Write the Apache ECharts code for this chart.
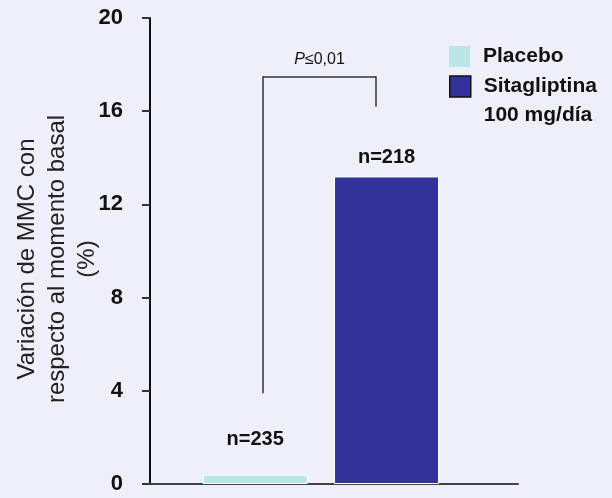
<!DOCTYPE html>
<html>
<head>
<meta charset="utf-8">
<script src="https://cdn.jsdelivr.net/npm/echarts@6/dist/echarts.min.js"></script>
<style>
  html, body { margin: 0; padding: 0; background: #efeff9; }
  #chart { width: 612px; height: 498px; }
</style>
</head>
<body>
<div id="chart"></div>
<script>
// Change in bone mineral density from baseline, by treatment group
const groups = ['Placebo', 'Sitagliptina 100 mg/día'];
const changePct = [0.4, 13.2];
const sampleSizes = [235, 218];
const yTicks = [0, 4, 8, 12, 16, 20];
const pLabel = 'P≤0,01';

const FONT = "'Liberation Sans', Arial, Helvetica, sans-serif";
const colors = ['#bde4e6', '#32329a'];
const labelDistance = [25, 9];

const chart = echarts.init(document.getElementById('chart'), null, { renderer: 'canvas' });

// Each group sits in its own slot (1, 2) along a plain value axis
const series = groups.map((name, i) => ({
  name,
  type: 'bar',
  barWidth: 105,
  barGap: '-100%',
  data: [[i + 1, changePct[i]]],
  itemStyle: { color: colors[i], borderColor: '#ffffff', borderWidth: 1 },
  label: {
    show: true,
    position: 'top',
    distance: labelDistance[i],
    formatter: () => 'n=' + sampleSizes[i],
    fontFamily: FONT,
    fontWeight: 'bold',
    fontSize: 20,
    color: '#111'
  },
  silent: true
}));

// Significance bracket between the two groups
series[1].markLine = {
  silent: true,
  symbol: 'none',
  animation: false,
  lineStyle: { color: '#333', width: 1.5, type: 'solid' },
  label: { show: false },
  data: [
    [{ coord: [1.06, 3.9] }, { coord: [1.06, 17.5] }],
    [
      {
        coord: [1.06, 17.5],
        label: {
          show: true,
          position: 'middle',
          distance: 9,
          formatter: '{i|P}{t|' + pLabel.slice(1) + '}',
          rich: {
            i: { fontFamily: FONT, fontSize: 16, fontStyle: 'italic', color: '#111' },
            t: { fontFamily: FONT, fontSize: 16, color: '#111' }
          }
        }
      },
      { coord: [1.92, 17.5] }
    ],
    [{ coord: [1.92, 17.5] }, { coord: [1.92, 16.2] }]
  ]
};

const legendText = {
  fontFamily: FONT,
  fontWeight: 'bold',
  fontSize: 21,
  color: '#111',
  padding: [0, 0, 0, 8]
};

chart.setOption({
  backgroundColor: '#efeff9',
  animation: false,
  grid: { left: 150, right: 94, top: 18, bottom: 14, outerBoundsMode: 'none', containLabel: false },
  legend: [
    {
      orient: 'vertical',
      left: 449,
      top: 46,
      padding: 0,
      icon: 'rect',
      itemWidth: 21,
      itemHeight: 21,
      selectedMode: false,
      data: [{ name: groups[0], itemStyle: { borderWidth: 0 } }],
      textStyle: legendText
    },
    {
      orient: 'vertical',
      left: 449,
      top: 43,
      padding: 0,
      icon: 'rect',
      itemWidth: 21,
      itemHeight: 21,
      selectedMode: false,
      data: [{ name: groups[1], itemStyle: { borderColor: '#111', borderWidth: 1.5 } }],
      // blank first line keeps the swatch level with the first line of the name
      formatter: (name) => '\n' + name.replace(' 100', '\n100'),
      textStyle: Object.assign({}, legendText, { lineHeight: 29 })
    }
  ],
  xAxis: {
    type: 'value',
    min: 0.2,
    max: 3.0,
    axisLine: { show: true, lineStyle: { color: '#444', width: 2 } },
    axisTick: { show: false },
    axisLabel: { show: false },
    splitLine: { show: false }
  },
  yAxis: {
    type: 'value',
    min: yTicks[0],
    max: yTicks[yTicks.length - 1],
    interval: yTicks[1] - yTicks[0],
    name: 'Variación de MMC con\nrespecto al momento basal\n(%)',
    nameLocation: 'middle',
    nameGap: 48,
    nameMoveOverlap: false,
    nameTextStyle: {
      fontFamily: FONT,
      fontSize: 24,
      lineHeight: 30,
      color: '#222',
      padding: [0, 16, 0, 0]
    },
    axisLine: { show: true, lineStyle: { color: '#111', width: 2 } },
    axisTick: { show: true, length: 8, lineStyle: { color: '#333', width: 2 } },
    axisLabel: {
      margin: 27,
      fontFamily: FONT,
      fontWeight: 'bold',
      fontSize: 22,
      color: '#111',
      formatter: (v) => (yTicks.includes(v) ? String(v) : '')
    },
    splitLine: { show: false }
  },
  series
});
</script>
</body>
</html>
